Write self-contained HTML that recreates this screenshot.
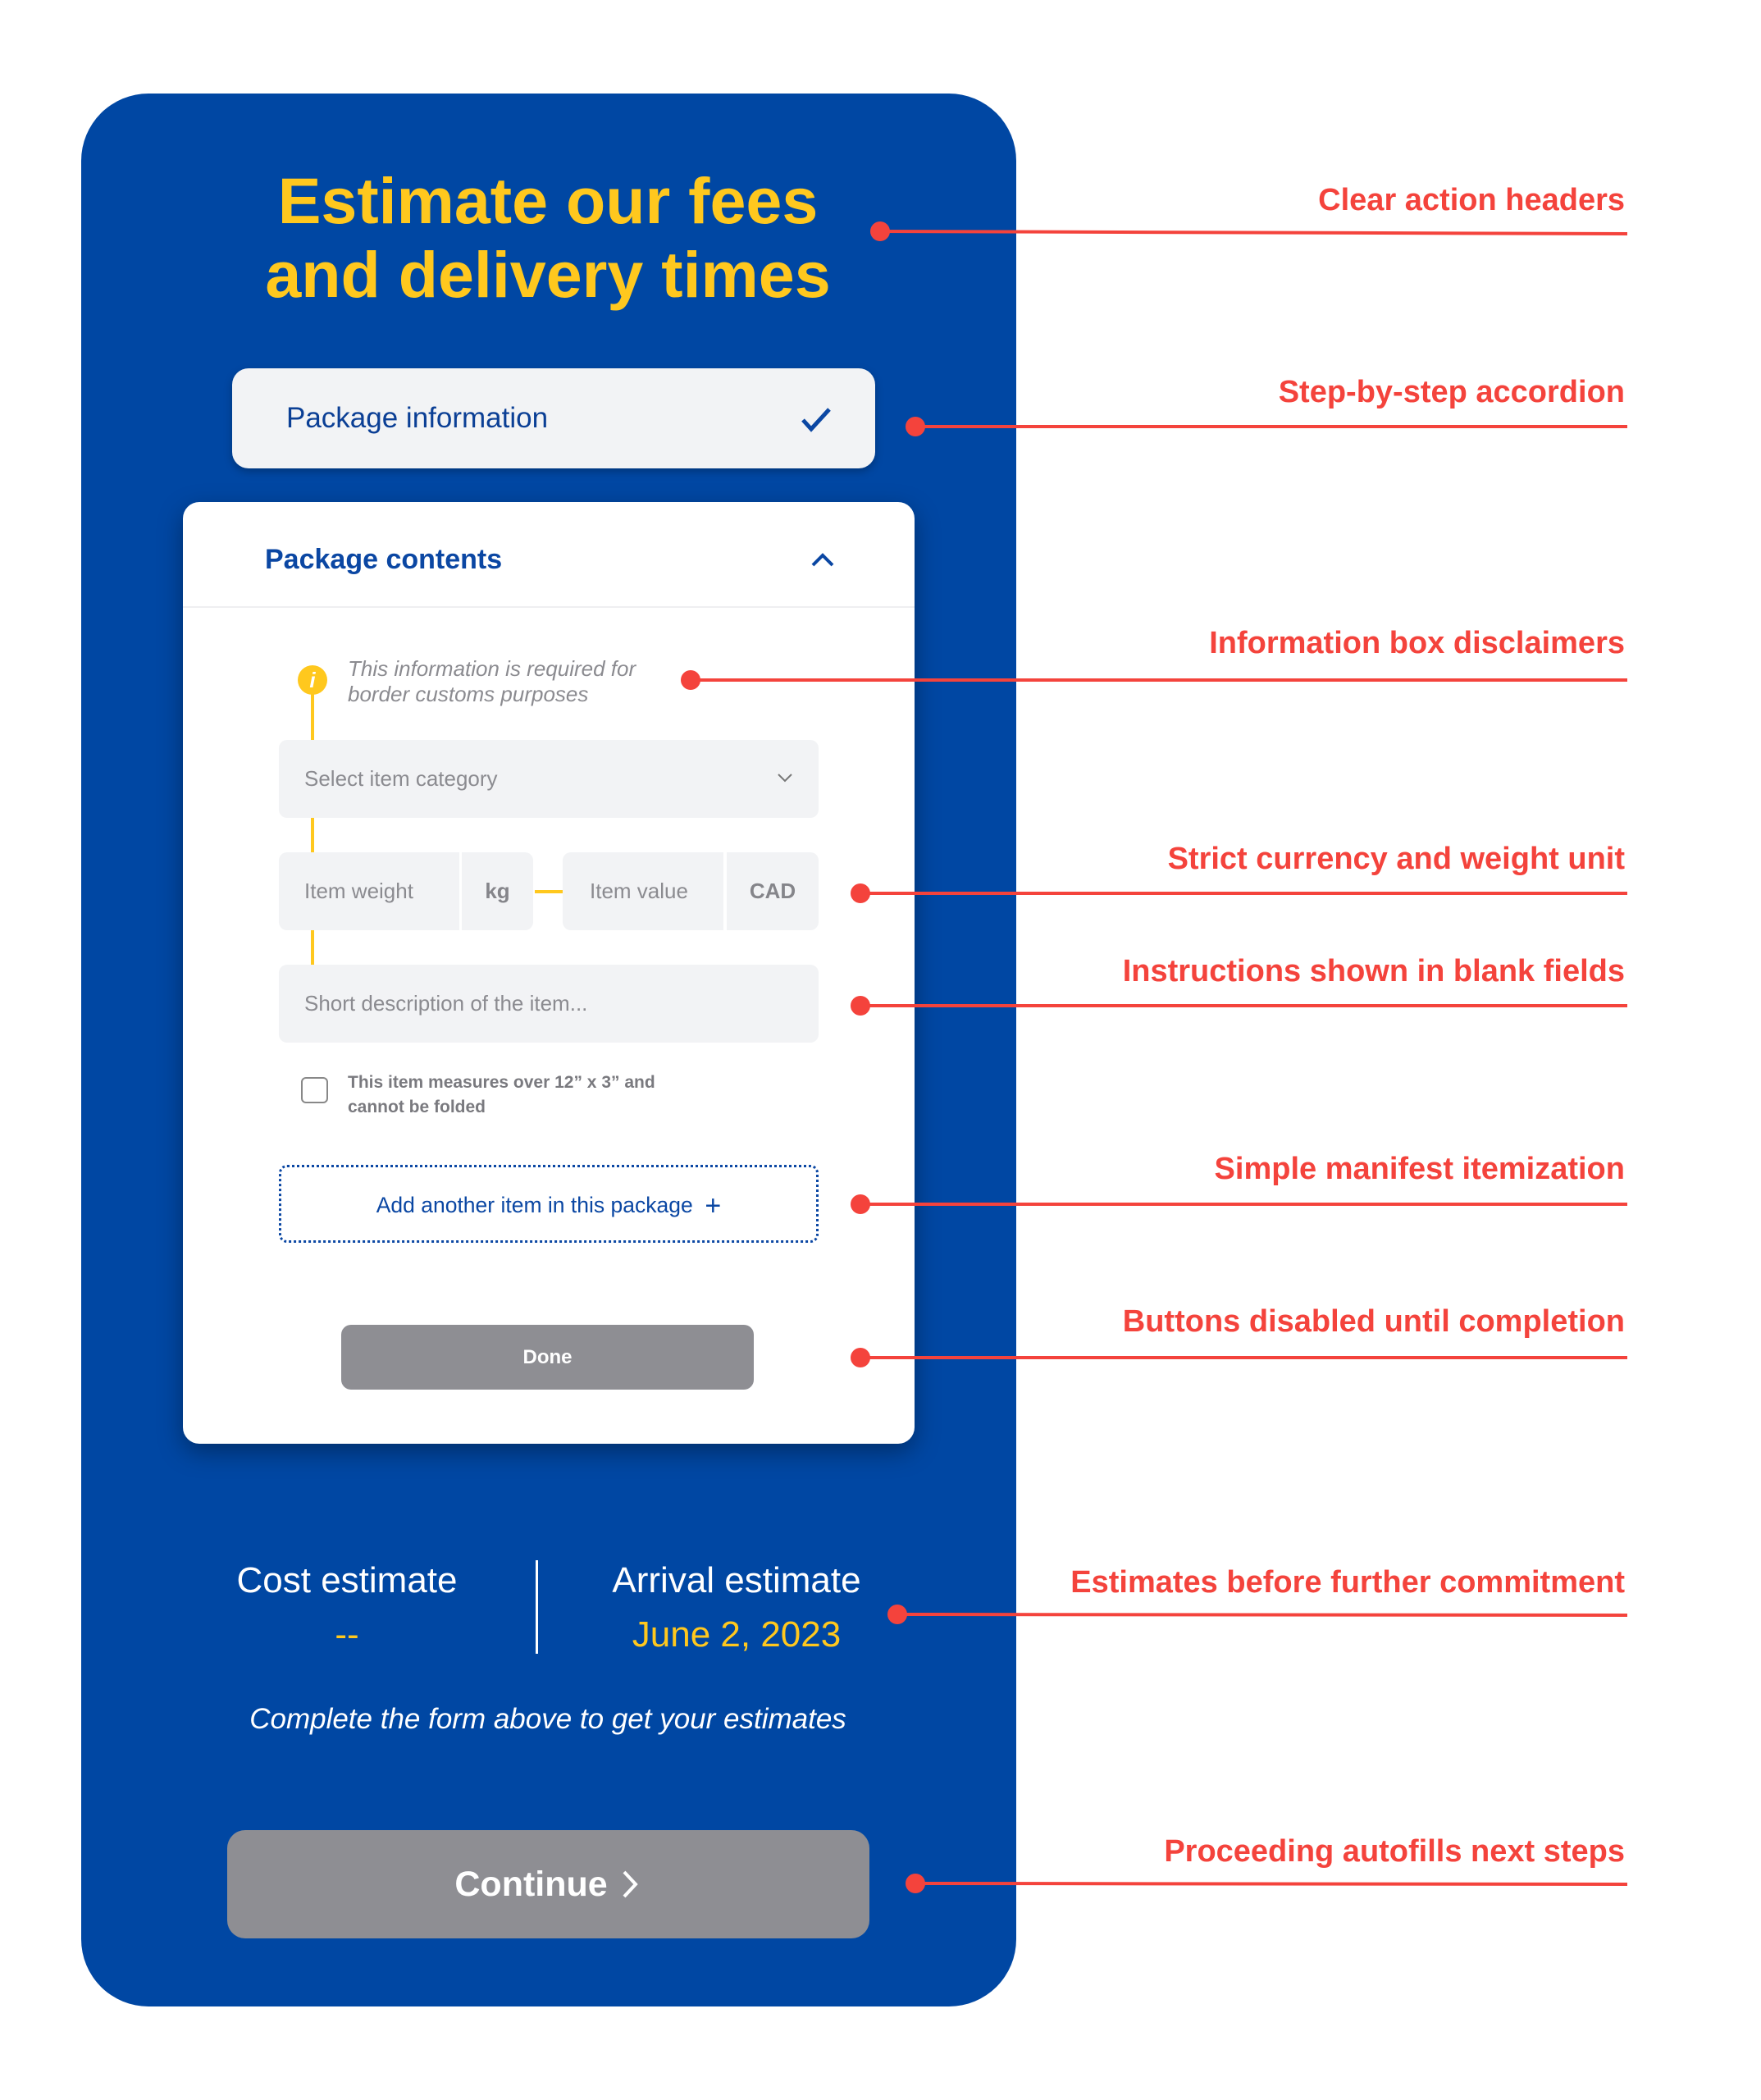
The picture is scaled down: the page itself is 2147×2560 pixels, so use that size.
<!DOCTYPE html>
<html><head><meta charset="utf-8"><style>
*{margin:0;padding:0;box-sizing:border-box}
body{width:2147px;height:2560px;background:#fff;position:relative;overflow:hidden;font-family:"Liberation Sans",sans-serif}
.a{position:absolute}
.panel{left:99px;top:114px;width:1140px;height:2332px;background:#0047A3;border-radius:82px}
.t{white-space:nowrap;line-height:1}
.field{background:#F2F3F5;border-radius:10px}
.ph{color:#8b8b90;font-size:26px}
.yl{background:#FFC81E}
</style></head><body>
<div class="a panel"></div>
<div class="a t" style="left:0;width:1336px;top:200px;text-align:center;color:#FFC81E;font-weight:bold;font-size:79px;line-height:90px">Estimate our fees<br>and delivery times</div>

<div class="a" style="left:283px;top:449px;width:784px;height:122px;background:#F2F3F5;border-radius:20px;box-shadow:0 4px 10px rgba(0,0,0,.25)"></div>
<div class="a t" style="left:349px;top:492px;font-size:35px;color:#0B3F95">Package information</div>
<svg class="a" style="left:975px;top:495px" width="40" height="34"><path d="M4 17 L14 28 L36 4" stroke="#0B47A3" stroke-width="5" fill="none"/></svg>

<div class="a" style="left:223px;top:612px;width:892px;height:1148px;background:#fff;border-radius:20px;box-shadow:0 10px 30px rgba(0,0,0,.35)"></div>
<div class="a t" style="left:323px;top:665px;font-size:34px;font-weight:bold;color:#0B47A3">Package contents</div>
<svg class="a" style="left:988px;top:672px" width="30" height="20"><path d="M3 17 L15 5 L27 17" stroke="#0B47A3" stroke-width="4" fill="none"/></svg>
<div class="a" style="left:223px;top:739px;width:892px;height:2px;background:#EFEFF1"></div>

<div class="a yl" style="left:379px;top:829px;width:4px;height:73px"></div>
<div class="a yl" style="left:379px;top:997px;width:4px;height:42px"></div>
<div class="a yl" style="left:379px;top:1134px;width:4px;height:42px"></div>
<div class="a yl" style="left:652px;top:1085px;width:34px;height:4px"></div>
<div class="a" style="left:363px;top:811px;width:36px;height:36px;border-radius:50%;background:#FFC81E;color:#fff;font-style:italic;font-weight:bold;font-size:26px;text-align:center;line-height:36px">i</div>
<div class="a t" style="left:424px;top:800px;font-size:26px;font-style:italic;color:#8b8b90;line-height:31px">This information is required for<br>border customs purposes</div>

<div class="a field" style="left:340px;top:902px;width:658px;height:95px"></div>
<div class="a t ph" style="left:371px;top:936px">Select item category</div>
<svg class="a" style="left:946px;top:941px" width="22" height="14"><path d="M3 3 L11 11 L19 3" stroke="#777" stroke-width="2" fill="none"/></svg>

<div class="a field" style="left:340px;top:1039px;width:220px;height:95px;border-radius:10px 0 0 10px"></div>
<div class="a field" style="left:563px;top:1039px;width:87px;height:95px;border-radius:0 10px 10px 0"></div>
<div class="a field" style="left:686px;top:1039px;width:196px;height:95px;border-radius:10px 0 0 10px"></div>
<div class="a field" style="left:886px;top:1039px;width:112px;height:95px;border-radius:0 10px 10px 0"></div>
<div class="a t ph" style="left:371px;top:1073px">Item weight</div>
<div class="a t ph" style="left:563px;width:87px;text-align:center;top:1073px;font-weight:bold;color:#85858a">kg</div>
<div class="a t ph" style="left:719px;top:1073px">Item value</div>
<div class="a t ph" style="left:886px;width:112px;text-align:center;top:1073px;font-weight:bold;color:#85858a">CAD</div>

<div class="a field" style="left:340px;top:1176px;width:658px;height:95px"></div>
<div class="a t ph" style="left:371px;top:1210px">Short description of the item...</div>

<div class="a" style="left:367px;top:1313px;width:33px;height:32px;border:2px solid #888;border-radius:6px"></div>
<div class="a t" style="left:424px;top:1305px;font-size:21px;font-weight:bold;color:#7a7a7f;line-height:30px">This item measures over 12” x 3” and<br>cannot be folded</div>

<div class="a" style="left:340px;top:1420px;width:658px;height:95px;border:3px dotted #0B47A3;border-radius:10px"></div>
<div class="a t" style="left:340px;width:658px;text-align:center;top:1453px;font-size:26.5px;color:#0B47A3">Add another item in this package&nbsp; <span style="font-size:34px;vertical-align:-3px">+</span></div>

<div class="a" style="left:416px;top:1615px;width:503px;height:79px;background:#8E8E93;border-radius:12px"></div>
<div class="a t" style="left:416px;width:503px;text-align:center;top:1643px;font-size:24px;font-weight:bold;color:#fff">Done</div>

<div class="a t" style="left:223px;width:400px;text-align:center;top:1905px;font-size:44px;color:#fff">Cost estimate</div>
<div class="a t" style="left:223px;width:400px;text-align:center;top:1971px;font-size:44px;color:#FFC81E">--</div>
<div class="a" style="left:653px;top:1902px;width:3px;height:114px;background:#fff"></div>
<div class="a t" style="left:698px;width:400px;text-align:center;top:1905px;font-size:44px;color:#fff">Arrival estimate</div>
<div class="a t" style="left:698px;width:400px;text-align:center;top:1971px;font-size:44px;color:#FFC81E">June 2, 2023</div>
<div class="a t" style="left:0;width:1336px;text-align:center;top:2078px;font-size:35px;font-style:italic;color:#fff">Complete the form above to get your estimates</div>

<div class="a" style="left:277px;top:2231px;width:783px;height:132px;background:#8E8E93;border-radius:22px"></div>
<div class="a t" style="left:277px;width:783px;text-align:center;top:2276px;font-size:43px;font-weight:bold;color:#fff">Continue <svg width="30" height="36" style="vertical-align:-4px"><path d="M8 3 L22 18 L8 33" stroke="#fff" stroke-width="4" fill="none"/></svg></div>

<svg class="a" style="left:0;top:0" width="2147" height="2560">
<g stroke="#F4433C" stroke-width="4" fill="#F4433C">
<line x1="1073" y1="282" x2="1984" y2="285"/><circle cx="1073" cy="282" r="12" stroke="none"/>
<line x1="1116" y1="520" x2="1984" y2="520"/><circle cx="1116" cy="520" r="12" stroke="none"/>
<line x1="842" y1="829" x2="1984" y2="829"/><circle cx="842" cy="829" r="12" stroke="none"/>
<line x1="1049" y1="1089" x2="1984" y2="1089"/><circle cx="1049" cy="1089" r="12" stroke="none"/>
<line x1="1049" y1="1226" x2="1984" y2="1226"/><circle cx="1049" cy="1226" r="12" stroke="none"/>
<line x1="1049" y1="1468" x2="1984" y2="1468"/><circle cx="1049" cy="1468" r="12" stroke="none"/>
<line x1="1049" y1="1655" x2="1984" y2="1655"/><circle cx="1049" cy="1655" r="12" stroke="none"/>
<line x1="1094" y1="1968" x2="1984" y2="1969"/><circle cx="1094" cy="1968" r="12" stroke="none"/>
<line x1="1116" y1="2296" x2="1984" y2="2297"/><circle cx="1116" cy="2296" r="12" stroke="none"/>
</g>
<g font-family="Liberation Sans, sans-serif" font-weight="bold" font-size="38" fill="#F4433C" text-anchor="end">
<text x="1981" y="256">Clear action headers</text>
<text x="1981" y="490">Step-by-step accordion</text>
<text x="1981" y="796">Information box disclaimers</text>
<text x="1981" y="1059">Strict currency and weight unit</text>
<text x="1981" y="1196">Instructions shown in blank fields</text>
<text x="1981" y="1437">Simple manifest itemization</text>
<text x="1981" y="1623">Buttons disabled until completion</text>
<text x="1981" y="1941">Estimates before further commitment</text>
<text x="1981" y="2269">Proceeding autofills next steps</text>
</g>
</svg>
</body></html>
